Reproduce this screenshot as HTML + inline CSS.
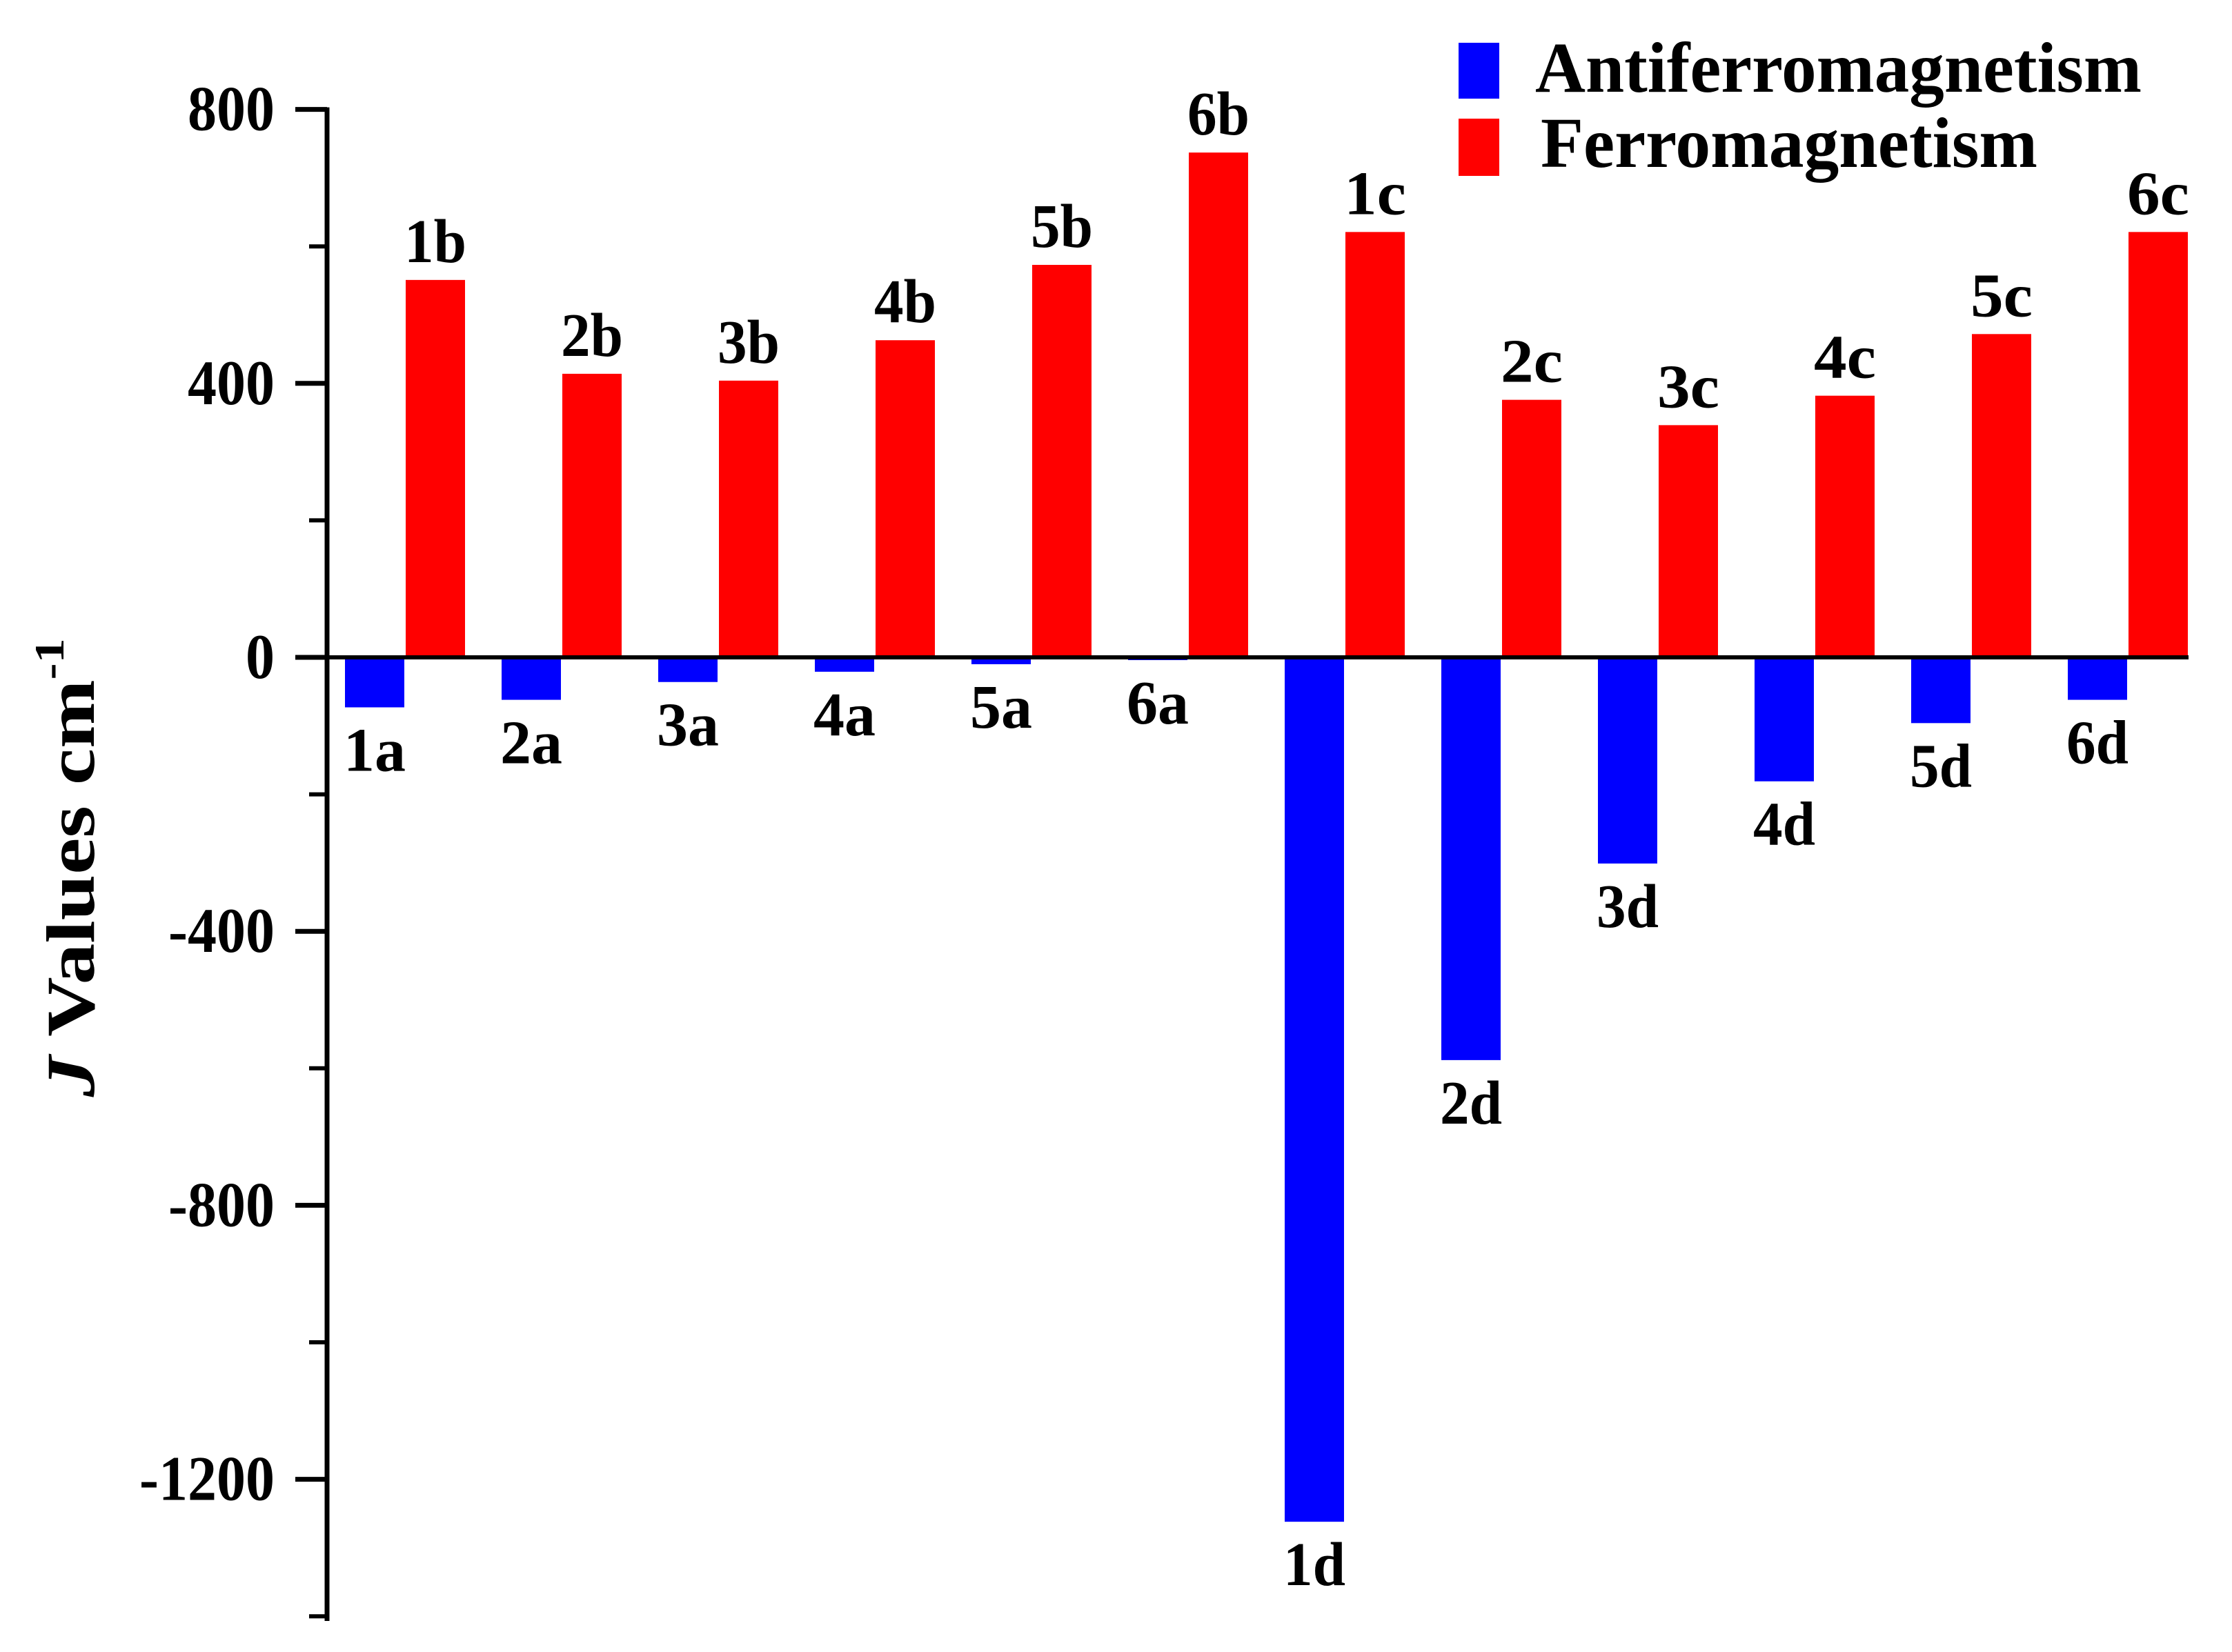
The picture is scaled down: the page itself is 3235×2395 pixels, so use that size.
<!DOCTYPE html>
<html><head><meta charset="utf-8"><style>
html,body{margin:0;padding:0;background:#fff}
svg{display:block}
text{font-family:"Liberation Serif",serif;font-weight:bold;fill:#000}
</style></head><body>
<svg id="chart" width="3235" height="2395" viewBox="0 0 3235 2395" xmlns="http://www.w3.org/2000/svg">
<g id="bars"></g>
<g id="axes"></g>
<g id="labels"></g>
<text transform="translate(136,1258) rotate(-90)" text-anchor="middle" font-size="100" textLength="665" lengthAdjust="spacingAndGlyphs"><tspan font-style="italic">J</tspan> Values cm<tspan dy="-44" font-size="60">-1</tspan></text>
<g>
<rect x="2114" y="62" width="59" height="81" fill="#0000ff"/>
<text x="2225" y="133" font-size="104" textLength="879" lengthAdjust="spacingAndGlyphs">Antiferromagnetism</text>
<rect x="2114" y="172" width="59" height="83" fill="#ff0000"/>
<text x="2233" y="242" font-size="104" textLength="720" lengthAdjust="spacingAndGlyphs">Ferromagnetism</text>
</g>
</svg>
<script>
const groups = ["1","2","3","4","5","6","1","2","3","4","5","6"];
const blueLabels = ["1a","2a","3a","4a","5a","6a","1d","2d","3d","4d","5d","6d"];
const redLabels = ["1b","2b","3b","4b","5b","6b","1c","2c","3c","4c","5c","6c"];
const blueValues = [-73,-62,-36,-21,-10,-4,-1262,-588,-301,-181,-96,-62];
const redValues = [551,414,404,463,573,737,621,376,339,382,472,621];
const yTicks = [800,400,0,-400,-800,-1200];
const yTickLabels = ["800","400","0","-400","-800","-1200"];
const yMinorTicks = [600,200,-200,-600,-1000,-1400];

const NS = "http://www.w3.org/2000/svg";
const y = v => 953 - 0.993 * v;
const xBlue = i => 500 + 227 * i;
const xRed = i => 588 + 227 * i;
const BW = 86;
function mk(tag, attrs, parent){const e=document.createElementNS(NS,tag);for(const k in attrs)e.setAttribute(k,attrs[k]);parent.appendChild(e);return e;}
const gb=document.getElementById('bars'), ga=document.getElementById('axes'), gl=document.getElementById('labels');
for(let i=0;i<groups.length;i++){
  const b=mk('rect',{x:xBlue(i),y:y(0),width:BW,height:y(blueValues[i])-y(0),fill:'#0000ff'},gb);
  
  
  const r=mk('rect',{x:xRed(i),y:y(redValues[i]),width:BW,height:y(0)-y(redValues[i]),fill:'#ff0000'},gb);
  
  
  const tb=mk('text',{x:xBlue(i)+BW/2,y:y(blueValues[i])+92,'text-anchor':'middle','font-size':'90',textLength:'90',lengthAdjust:'spacingAndGlyphs'},gl);
  tb.textContent=blueLabels[i];
  
  
  const tr=mk('text',{x:xRed(i)+BW/2,y:y(redValues[i])-26,'text-anchor':'middle','font-size':'90',textLength:'90',lengthAdjust:'spacingAndGlyphs'},gl);
  tr.textContent=redLabels[i];
  
  
}
const ya=mk('line',{x1:474,y1:y(800)-3,x2:474,y2:2350,stroke:'#000','stroke-width':7},ga);


const xa=mk('line',{x1:471,y1:y(0),x2:3172,y2:y(0),stroke:'#000','stroke-width':6},ga);


yTicks.forEach((v,k)=>{
  const t=mk('line',{x1:428,y1:y(v),x2:474,y2:y(v),stroke:'#000','stroke-width':7},ga);
  
  
  const l=mk('text',{x:398,y:y(v)+30,'text-anchor':'end','font-size':'92',textLength:String(yTickLabels[k].length*42+ (yTickLabels[k][0]==='-'?-14:0)),lengthAdjust:'spacingAndGlyphs'},ga);
  l.textContent=yTickLabels[k];
  
  
});
yMinorTicks.forEach(v=>{
  if(y(v)>2350) return;
  const t=mk('line',{x1:448,y1:y(v),x2:474,y2:y(v),stroke:'#000','stroke-width':6},ga);
  
  
});
</script>
</body></html>
